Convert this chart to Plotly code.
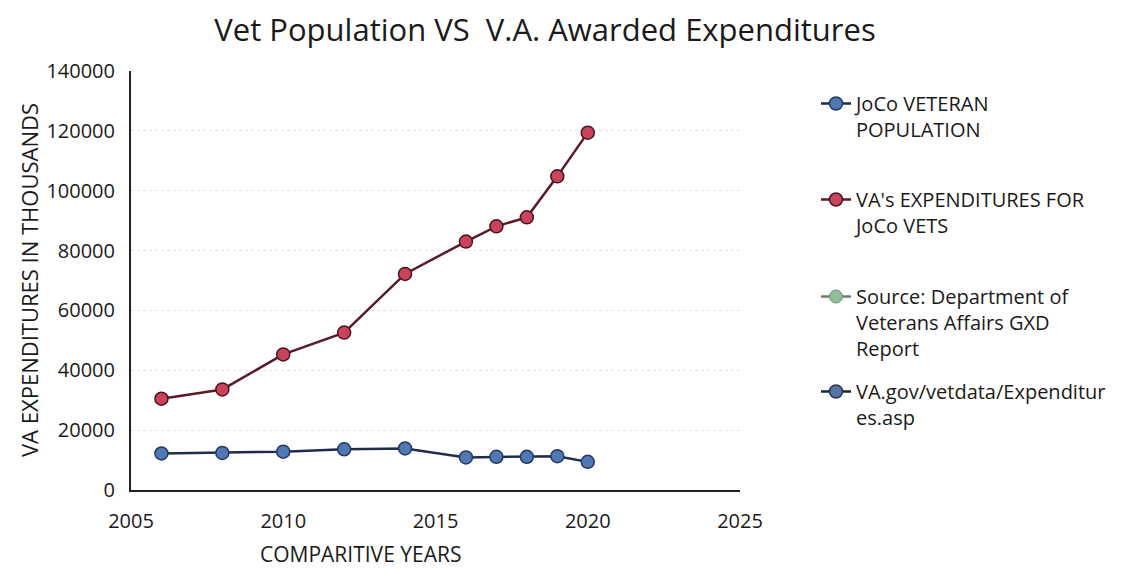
import plotly.graph_objects as go

years = [2006, 2008, 2010, 2012, 2014, 2016, 2017, 2018, 2019, 2020]
vet_population = [12200, 12400, 12800, 13600, 13900, 10900, 11100, 11100, 11300, 9400]
va_expenditures = [30500, 33600, 45300, 52600, 72200, 83000, 88100, 91100, 104800, 119400]

legend_names = [
    "JoCo VETERAN<br>POPULATION",
    "VA's EXPENDITURES FOR<br>JoCo VETS",
    "Source: Department of<br>Veterans Affairs GXD<br>Report",
    "VA.gov/vetdata/Expenditur<br>es.asp",
]
title_text = "Vet Population VS&nbsp; V.A. Awarded Expenditures"
x_title = "COMPARITIVE YEARS"
y_title = "VA EXPENDITURES IN THOUSANDS"

FONT = "'Open Sans', Lato, sans-serif"
TXT = "#1a1a1a"

fig = go.Figure()
fig.add_trace(go.Scatter(
    x=years, y=vet_population, mode="lines+markers", name=legend_names[0],
    line=dict(color="#1f2d4d", width=2.5),
    marker=dict(size=13, color="#4f78b5", line=dict(color="#233a60", width=1.5)),
    legend="legend",
))
fig.add_trace(go.Scatter(
    x=years, y=va_expenditures, mode="lines+markers", name=legend_names[1],
    line=dict(color="#5a1a26", width=2.5),
    marker=dict(size=13, color="#c9435a", line=dict(color="#4a1420", width=1.5)),
    legend="legend2",
))
fig.add_trace(go.Scatter(
    x=[None], y=[None], mode="lines+markers", name=legend_names[2],
    line=dict(color="#6f7a70", width=2.5),
    marker=dict(size=13, color="#8fbf98", line=dict(color="#6f8a74", width=1)),
    legend="legend3",
))
fig.add_trace(go.Scatter(
    x=[None], y=[None], mode="lines+markers", name=legend_names[3],
    line=dict(color="#1f2535", width=2.5),
    marker=dict(size=13, color="#5673a6", line=dict(color="#2a3550", width=1.5)),
    legend="legend4",
))

W, H = 1123, 570
L, R, T, B = 131, W - 740, 71, H - 490
ph = H - T - B
pw = W - L - R

def ly(px):
    return (H - B - px) / ph

def lx(px):
    return (px - L) / pw

leg_common = dict(
    x=lx(816), xanchor="left", yanchor="top",
    font=dict(family=FONT, size=20, color=TXT),
    bgcolor="rgba(0,0,0,0)", valign="top", itemwidth=30,
)
fig.update_layout(
    width=W, height=H,
    margin=dict(l=L, r=R, t=T, b=B),
    paper_bgcolor="white", plot_bgcolor="white",
    font=dict(family=FONT, size=20, color=TXT),
    title=dict(text=title_text, x=545 / W, xanchor="center", y=1 - 30 / H, yanchor="middle",
               font=dict(family=FONT, size=31, color=TXT), automargin=False),
    showlegend=True,
    legend=dict(y=ly(84), **leg_common),
    legend2=dict(y=ly(180), **leg_common),
    legend3=dict(y=ly(277), **leg_common),
    legend4=dict(y=ly(372), **leg_common),
    xaxis=dict(range=[2005, 2025], tickvals=[2005, 2010, 2015, 2020, 2025],
               showgrid=False, zeroline=False, showline=True, linecolor="#222", linewidth=2,
               ticks="", tickfont=dict(family=FONT, size=20, color=TXT), ticklabelstandoff=12,
               automargin=False),
    yaxis=dict(range=[0, 140000], dtick=20000, tickformat="d", showgrid=True,
               gridcolor="rgba(0,0,0,0.10)", griddash="dot", gridwidth=1,
               zeroline=False, showline=True, linecolor="#222", linewidth=2,
               ticks="", tickfont=dict(family=FONT, size=20, color=TXT), ticklabelstandoff=10,
               automargin=False),
    annotations=[
        dict(text=x_title, x=lx(360), y=ly(554), xref="paper", yref="paper", showarrow=False,
             xanchor="center", yanchor="middle",
             font=dict(family=FONT, size=21, color=TXT)),
        dict(text=y_title, x=lx(29), y=ly(280), xref="paper", yref="paper", showarrow=False,
             xanchor="center", yanchor="middle", textangle=-90,
             font=dict(family=FONT, size=22, color=TXT)),
    ],
)

fig.write_html("out.html", config={"displayModeBar": False},
               post_script="document.body.style.margin='0';")
